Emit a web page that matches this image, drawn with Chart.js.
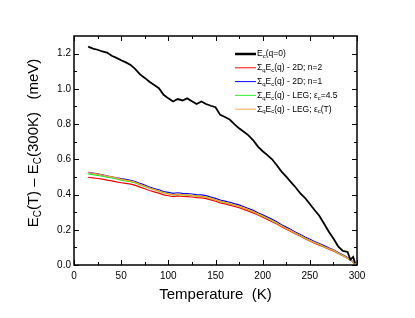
<!DOCTYPE html>
<html>
<head>
<meta charset="utf-8">
<script src="https://cdn.jsdelivr.net/npm/chart.js@4"></script>
<style>
  html, body { margin: 0; padding: 0; background: #fff; }
  #wrap { width: 415px; height: 318px; }
</style>
</head>
<body>
<div id="wrap"><canvas id="chart" width="415" height="318"></canvas></div>
<script>
// temperatures (K), shared by every curve
var temps = [15,20,25,30,35,40,45,50,55,60,65,70,75,80,85,90,95,100,105,110,115,120,125,130,135,140,145,150,155,160,165,170,175,180,185,190,195,200,205,210,215,220,225,230,235,240,245,250,255,260,265,270,275,280,285,290,293,296,298];

// E_c(q=0)
var ecq0 = [1.240,1.228,1.222,1.212,1.206,1.188,1.176,1.162,1.150,1.136,1.112,1.082,1.062,1.040,1.022,1.004,0.966,0.946,0.928,0.942,0.934,0.946,0.930,0.914,0.928,0.914,0.904,0.896,0.852,0.840,0.826,0.800,0.776,0.756,0.736,0.708,0.672,0.646,0.624,0.600,0.566,0.530,0.502,0.470,0.440,0.406,0.380,0.346,0.312,0.280,0.236,0.190,0.150,0.106,0.080,0.074,0.030,0.046,0.010];
// sum_q E_c(q) - 2D; n=2
var sum2dN2 = [.498,.495,.491,.487,.482,.478,.472,.467,.463,.459,.452,.442,.433,.423,.415,.408,.398,.393,.388,.392,.389,.388,.386,.383,.381,.377,.370,.362,.353,.347,.340,.333,.326,.316,.306,.296,.284,.272,.259,.246,.233,.217,.203,.190,.176,.163,.149,.136,.124,.113,.102,.090,.080,.066,.053,.038,.029,.015,.003];
// sum_q E_c(q) - 2D; n=1
var sum2dN1 = [.526,.522,.517,.512,.506,.501,.495,.490,.486,.481,.474,.463,.454,.443,.434,.427,.417,.412,.407,.410,.407,.406,.403,.400,.398,.394,.386,.378,.369,.363,.356,.348,.341,.331,.321,.310,.297,.285,.272,.259,.245,.229,.215,.201,.186,.173,.159,.146,.133,.122,.110,.097,.087,.071,.058,.042,.032,.017,.005];
// sum_q E_c(q) - LEG; eps_c=4.5
var legEps45 = [.517,.513,.509,.504,.499,.494,.488,.482,.478,.473,.466,.455,.446,.436,.427,.419,.409,.403,.398,.401,.398,.397,.394,.391,.389,.385,.377,.369,.360,.354,.347,.339,.332,.322,.312,.302,.289,.277,.264,.251,.237,.221,.207,.194,.179,.166,.152,.139,.127,.116,.104,.092,.082,.067,.054,.039,.029,.015,.003];
// sum_q E_c(q) - LEG; eps_c(T)
var legEpsT = [.525,.521,.516,.511,.505,.500,.493,.487,.482,.477,.469,.458,.448,.437,.428,.420,.410,.404,.399,.402,.399,.398,.395,.392,.390,.386,.378,.370,.361,.355,.348,.340,.333,.323,.313,.303,.290,.278,.265,.252,.238,.222,.208,.195,.180,.167,.153,.140,.128,.117,.105,.093,.083,.068,.055,.040,.030,.016,.004];

var xTicks = [0,50,100,150,200,250,300];
var xTickLabels = ['0','50','100','150','200','250','300'];
var yTicks = [0,0.2,0.4,0.6,0.8,1.0,1.2];
var yTickLabels = ['0.0','0.2','0.4','0.6','0.8','1.0','1.2'];

// legend rows: [colour, width, pieces]  pieces: [text, isSub]
var legendRows = [
	['#000000',2.5,[['E',0],['c',1],['(q=0)',0]]],
	['#ff0000',1,[['\u03A3',0],['q',1],['E',0],['c',1],['(q) - 2D; n=2',0]]],
	['#0000ff',1,[['\u03A3',0],['q',1],['E',0],['c',1],['(q) - 2D; n=1',0]]],
	['#33ee33',1,[['\u03A3',0],['q',1],['E',0],['c',1],['(q) - LEG; \u03B5',0],['c',1],['=4.5',0]]],
	['#ffa64d',1,[['\u03A3',0],['q',1],['E',0],['c',1],['(q) - LEG; \u03B5',0],['c',1],['(T)',0]]]
];
var yTitle = [['E',0],['C',1],['(T) \u2013 E',0],['C',1],['(300K)   (meV)',0]];

var FONT = '"Liberation Sans", Arial, Helvetica, sans-serif';

function pts(vals){
	return temps.map(function(t,i){ return {x:t, y:vals[i]}; });
}

function drawPieces(ctx, pieces, x, y, size, subSize, subDrop){
	pieces.forEach(function(p){
		ctx.font = (p[1] ? subSize : size) + 'px ' + FONT;
		ctx.fillText(p[0], x, y + (p[1] ? subDrop : 0));
		x += ctx.measureText(p[0]).width;
	});
	return x;
}
function piecesWidth(ctx, pieces, size, subSize){
	var w = 0;
	pieces.forEach(function(p){
		ctx.font = (p[1] ? subSize : size) + 'px ' + FONT;
		w += ctx.measureText(p[0]).width;
	});
	return w;
}

var framePlugin = {
	id: 'frame',
	afterDatasetsDraw: function(chart){
		var ctx = chart.ctx, a = chart.chartArea, x = chart.scales.x, y = chart.scales.y;
		ctx.save();
		ctx.strokeStyle = '#000';
		ctx.lineWidth = 1;
		ctx.beginPath();
		for (var v = 0; v <= 300; v += 25){
			var px = Math.round(x.getPixelForValue(v)) + 0.5;
			var len = (v % 50 === 0) ? 5 : 3;
			ctx.moveTo(px, a.bottom); ctx.lineTo(px, a.bottom - len);
			ctx.moveTo(px, a.top); ctx.lineTo(px, a.top + len);
		}
		for (var i = 0; i <= 12; i++){
			var py = Math.round(y.getPixelForValue(i / 10)) + 0.5;
			var l2 = (i % 2 === 0) ? 5 : 3;
			ctx.moveTo(a.left, py); ctx.lineTo(a.left + l2, py);
			ctx.moveTo(a.right, py); ctx.lineTo(a.right - l2, py);
		}
		ctx.stroke();
		ctx.lineWidth = 1.5;
		ctx.strokeRect(a.left, a.top, a.right - a.left, a.bottom - a.top);

		// legend
		ctx.fillStyle = '#000';
		ctx.textBaseline = 'middle';
		legendRows.forEach(function(r, k){
			var ly = 54 + k * 13.8;
			ctx.strokeStyle = r[0];
			ctx.lineWidth = r[1];
			ctx.beginPath();
			ctx.moveTo(235, ly); ctx.lineTo(256, ly);
			ctx.stroke();
			drawPieces(ctx, r[2], 257, ly, 8.5, 6, 2.5);
		});

		// y axis title with subscripts
		ctx.translate(34, 143);
		ctx.rotate(-Math.PI / 2);
		ctx.textBaseline = 'middle';
		var w = piecesWidth(ctx, yTitle, 15, 10);
		drawPieces(ctx, yTitle, -w / 2, 0, 15, 10, 4);
		ctx.restore();
	}
};

var ctx = document.getElementById('chart');
var chart = new Chart(ctx, {
	type: 'line',
	data: {
		datasets: [
			{label:'E_c(q=0)', data:pts(ecq0), borderColor:'#000000', borderWidth:1.8, order:0},
			{label:'2D n=2', data:pts(sum2dN2), borderColor:'#ff0000', borderWidth:1.2, order:4},
			{label:'2D n=1', data:pts(sum2dN1), borderColor:'#0000ff', borderWidth:1.2, order:3},
			{label:'LEG 4.5', data:pts(legEps45), borderColor:'#22ee22', borderWidth:1.2, order:2},
			{label:'LEG T', data:pts(legEpsT), borderColor:'#ff9933', borderWidth:1.2, order:1}
		]
	},
	options: {
		responsive: false,
		animation: false,
		events: [],
		elements: { point: { radius: 0 }, line: { tension: 0 } },
		layout: { padding: { left: 0, top: 36, right: 58, bottom: 0 } },
		plugins: { legend: { display: false }, tooltip: { enabled: false } },
		scales: {
			x: {
				type: 'linear', min: 0, max: 300,
				grid: { display: false, drawTicks: false }, border: { display: false },
				afterBuildTicks: function(s){ s.ticks = xTicks.map(function(v){ return {value:v}; }); },
				afterFit: function(s){ s.height = 53; },
				ticks: {
					padding: 5, color: '#000', maxRotation: 0,
					font: { family: FONT, size: 10 },
					callback: function(v, i){ return xTickLabels[i]; }
				},
				title: {
					display: true, text: 'Temperature  (K)', color: '#000',
					font: { family: FONT, size: 15 }, padding: { top: 4, bottom: 14 }
				}
			},
			y: {
				type: 'linear', min: 0, max: 1.3,
				grid: { display: false, drawTicks: false }, border: { display: false },
				afterBuildTicks: function(s){ s.ticks = yTicks.map(function(v){ return {value:v}; }); },
				afterFit: function(s){ s.width = 74; },
				ticks: {
					padding: 3, color: '#000',
					font: { family: FONT, size: 10 },
					callback: function(v, i){ return yTickLabels[i]; }
				}
			}
		}
	},
	plugins: [framePlugin]
});
</script>
</body>
</html>
